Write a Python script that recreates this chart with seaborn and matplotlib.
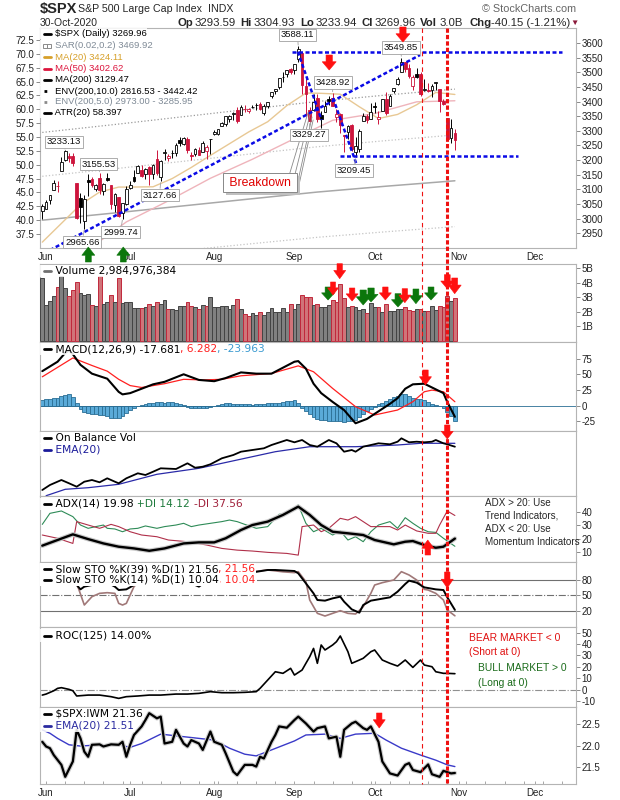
import matplotlib
matplotlib.use("Agg")
import matplotlib.pyplot as plt
import matplotlib.patheffects as pe
from matplotlib.lines import Line2D
from matplotlib.patches import Polygon, Rectangle
from matplotlib.text import Annotation
import seaborn as sns

sns.set_theme(style="white")
plt.rcParams['font.family'] = ['Liberation Sans', 'DejaVu Sans']
plt.rcParams['axes.unicode_minus'] = False

# --- daily $SPX bars, day 0 = 29-May-2020 ... day 108 = 30-Oct-2020 ---
prev_close = 3029.73  # 28-May close, only used to colour day 0

opens = [3025.17,
         3031.48, 3064.78, 3098.90, 3111.56, 3163.84, 3199.92, 3213.32, 3213.42, 3123.53, 3071.04,
         2993.76, 3131.00, 3136.13, 3101.64, 3140.29, 3094.42, 3138.70, 3114.40, 3046.60, 3073.20,
         3018.59, 3050.20,
         3105.92, 3143.64, 3155.29, 3166.44, 3153.07, 3176.17, 3152.47, 3205.08, 3141.11, 3225.98,
         3208.36, 3224.21, 3224.29, 3268.52, 3254.86, 3271.64, 3218.58, 3219.84, 3234.27, 3227.22,
         3231.76, 3270.45,
         3288.26, 3289.92, 3317.37, 3323.17, 3340.05, 3356.04, 3370.34, 3355.46, 3372.95, 3368.66,
         3380.86, 3387.04, 3392.51, 3360.48, 3386.01, 3418.09, 3435.95, 3449.97, 3485.14, 3494.69,
         3509.73,
         3507.44, 3543.76, 3564.74, 3453.60, 3371.88, 3369.82, 3412.56, 3352.70, 3363.56, 3407.73,
         3411.23, 3346.86, 3357.38, 3285.57, 3295.75, 3320.11, 3226.14, 3236.66, 3333.90, 3350.92,
         3341.21,
         3385.87, 3338.94, 3367.27, 3408.74, 3384.56, 3434.28, 3459.67, 3500.02, 3534.01, 3515.47,
         3453.72, 3493.50, 3493.66, 3439.38, 3439.91, 3438.50, 3464.90, 3441.42, 3403.15, 3342.48,
         3277.17, 3293.59]

highs = [3049.17,
         3062.18, 3081.07, 3130.94, 3128.91, 3211.72, 3233.13, 3222.71, 3223.27, 3123.53, 3088.42,
         3079.76, 3153.45, 3141.16, 3120.00, 3155.53, 3120.92, 3154.90, 3115.01, 3086.25, 3073.73,
         3053.89, 3111.51,
         3128.44, 3165.81, 3182.59, 3184.15, 3171.80, 3179.78, 3186.82, 3235.32, 3200.95, 3238.28,
         3220.39, 3233.52, 3258.61, 3277.29, 3279.32, 3279.99, 3227.26, 3241.43, 3243.72, 3264.74,
         3250.92, 3272.17,
         3302.73, 3306.84, 3330.77, 3351.03, 3352.54, 3363.29, 3381.01, 3387.89, 3387.24, 3378.51,
         3387.59, 3395.06, 3399.54, 3390.80, 3399.96, 3432.09, 3444.21, 3481.07, 3501.38, 3509.23,
         3514.77,
         3528.03, 3588.11, 3564.85, 3479.15, 3379.97, 3424.77, 3425.55, 3368.95, 3402.93, 3419.48,
         3428.92, 3375.17, 3362.27, 3285.57, 3320.31, 3323.35, 3278.70, 3306.88, 3360.74, 3357.92,
         3393.56,
         3397.18, 3369.10, 3409.57, 3431.56, 3426.26, 3447.28, 3482.34, 3549.85, 3534.01, 3527.94,
         3489.08, 3515.76, 3502.42, 3476.93, 3464.86, 3460.53, 3466.46, 3441.42, 3409.51, 3342.48,
         3341.05, 3304.93]

lows = [2998.61,
        3031.48, 3051.64, 3097.44, 3090.41, 3163.84, 3196.00, 3193.11, 3181.49, 2999.49, 2984.47,
        2965.66, 3076.06, 3108.03, 3093.51, 3083.11, 3079.39, 3127.12, 3032.13, 3024.01, 3004.63,
        2999.74, 3047.83,
        3101.17, 3124.52, 3155.29, 3142.93, 3136.53, 3115.70, 3136.22, 3149.43, 3127.66, 3200.76,
        3198.59, 3205.65, 3215.16, 3247.77, 3253.10, 3222.66, 3200.05, 3214.25, 3216.17, 3227.22,
        3204.13, 3220.26,
        3284.53, 3286.37, 3317.37, 3318.14, 3328.72, 3335.44, 3326.44, 3355.46, 3363.35, 3361.64,
        3379.22, 3370.15, 3369.66, 3354.69, 3379.31, 3413.13, 3425.84, 3444.15, 3468.35, 3484.32,
        3493.25,
        3494.60, 3535.23, 3427.41, 3349.63, 3329.27, 3366.84, 3329.25, 3310.47, 3363.56, 3389.25,
        3384.45, 3328.82, 3292.40, 3229.10, 3270.95, 3232.57, 3209.45, 3228.44, 3332.91, 3327.54,
        3340.47,
        3361.39, 3323.69, 3367.27, 3354.54, 3384.56, 3428.15, 3458.07, 3499.61, 3500.86, 3480.55,
        3440.89, 3480.45, 3419.93, 3435.65, 3433.06, 3415.34, 3440.45, 3364.86, 3388.71, 3268.89,
        3259.82, 3233.94]

closes = [3044.31,
          3055.73, 3080.82, 3122.87, 3112.35, 3193.93, 3232.39, 3207.18, 3190.14, 3002.10, 3041.31,
          3066.59, 3124.74, 3113.49, 3115.34, 3097.74, 3117.86, 3131.29, 3050.33, 3083.76, 3009.05,
          3053.24, 3100.29,
          3115.86, 3130.01, 3179.72, 3145.32, 3169.94, 3152.05, 3185.04, 3155.22, 3197.52, 3226.56,
          3215.57, 3224.73, 3251.84, 3257.30, 3276.02, 3235.66, 3215.63, 3239.41, 3218.44, 3258.44,
          3246.22, 3271.12,
          3294.61, 3306.51, 3327.77, 3349.16, 3351.28, 3360.47, 3333.69, 3380.35, 3373.43, 3372.85,
          3381.99, 3389.78, 3374.85, 3385.51, 3397.16, 3431.28, 3443.62, 3478.73, 3484.55, 3508.01,
          3500.31,
          3526.65, 3580.84, 3455.06, 3426.96, 3331.84, 3398.96, 3339.19, 3340.97, 3383.54, 3401.20,
          3385.49, 3357.01, 3319.47, 3281.06, 3315.57, 3236.92, 3246.59, 3298.46, 3351.60, 3335.47,
          3363.00,
          3380.80, 3348.42, 3408.60, 3360.97, 3419.44, 3446.83, 3477.14, 3534.22, 3511.93, 3488.67,
          3483.34, 3483.81, 3426.92, 3443.12, 3435.56, 3453.49, 3465.39, 3400.97, 3390.68, 3271.03,
          3310.11, 3269.96]

# volume in billions of shares
volume_b = [4.34, 2.44, 2.74, 3.09, 3.69, 4.48, 3.65, 3.09, 3.48, 4.04,
            3.28, 3.18, 3.23, 2.44, 2.37, 4.48, 2.51, 2.65, 3.14, 2.65,
            4.34, 2.58, 2.65, 2.65, 2.23, 2.27, 2.23, 2.30, 2.51, 2.37,
            2.65, 2.51, 2.79, 2.16, 2.16, 2.09, 2.37, 2.37, 2.65, 2.37,
            2.30, 2.16, 2.44, 2.37, 3.00, 2.30, 2.30, 2.37, 2.37, 2.16,
            2.49, 2.86, 2.16, 1.86, 1.70, 1.89, 1.75, 1.96, 1.75, 1.96,
            2.23, 1.96, 1.96, 2.23, 1.96, 2.51, 2.16, 2.51, 3.14, 3.00,
            3.00, 2.44, 2.51, 2.30, 2.30, 2.44, 2.79, 2.65, 3.90, 2.93,
            2.30, 2.37, 2.30, 2.09, 2.16, 1.89, 2.58, 2.30, 2.30, 1.96,
            2.51, 2.02, 2.02, 2.16, 2.16, 2.30, 2.09, 2.02, 2.16, 2.16,
            2.02, 2.02, 2.37, 2.09, 2.37, 2.30, 3.07, 2.72, 2.98]

# overlays (read at sample days)
ma20_days = [0, 5, 10, 15, 20, 23, 29, 34, 39, 44, 49, 54, 59, 64, 69, 73, 78, 83, 88, 93, 98, 103, 108]
ma20_vals = [2920, 2984, 3048, 3091, 3108, 3108, 3109, 3137, 3175, 3216, 3256, 3296, 3331, 3386,
             3429, 3428, 3425, 3382, 3342, 3356, 3389, 3431, 3424.11]
ma50_days = [0, 11, 22, 33, 44, 55, 65, 76, 87, 98, 108]
ma50_vals = [2773, 2885, 2989, 3061, 3138, 3203, 3267, 3336, 3359, 3399, 3402.62]
ma200_days = [0, 20, 40, 60, 72, 90, 108]
ma200_vals = [2995, 3021, 3048, 3075, 3091, 3111, 3129.47]
env10_up = [3294.5, 3323.1, 3352.8, 3382.5, 3400.1, 3422.1, 3442.42]
env10_lo = [2695.5, 2718.9, 2743.2, 2767.5, 2781.9, 2799.9, 2816.53]
env5_up = [3144.8, 3172.1, 3200.4, 3228.8, 3245.6, 3266.6, 3285.95]
env5_lo = [2845.3, 2869.9, 2895.6, 2921.3, 2936.5, 2955.5, 2973.00]

# MACD(12,26,9)
macd_days = [0, 4, 6, 7, 8, 10, 13, 17, 20, 21, 23, 26, 29, 32, 37, 41, 45, 48, 52, 56,
             60, 66, 67, 69, 71, 73, 76, 79, 82, 85, 88, 91, 93, 95, 97, 100, 103, 105, 106, 108]
macd_vals = [55, 70, 84, 88, 82, 65, 51, 43, 22, 18, 20, 27, 34, 38, 50, 41, 39, 44, 53, 51,
             51, 70, 71, 59, 35, 20, 6, -7, -28, -21, -9, 3, 12, 27, 34, 35, 26, 20, 6, -17.68]
signal_days = [0, 8, 13, 17, 20, 23, 26, 32, 37, 42, 47, 52, 60, 67, 71, 76, 82, 87, 93, 97,
               100, 102, 105, 108]
signal_vals = [46, 76, 64, 55, 42, 32, 29, 35, 42, 41, 42, 47.6, 51.3, 63.4, 54, 27.5, -1.6,
               -14.8, -6.9, 6.3, 22.2, 24.8, 22.2, 6.28]
macd_hist = [9, 10, 11, 12, 13, 15, 17, 18, 14, 4,
             -6, -10, -12, -13, -14, -15, -15, -17, -20, -20,
             -19, -16, -12, -7, -3, -1, 1, 3, 4, 5,
             6, 6, 5, 6, 6, 5, 3, 1, -2, -3,
             -4, -4, -3, -3, -2, -1, 1, 2, 4, 4,
             3, 2, 3, 2, 2, 1, 2, 3, 3, 4,
             4, 4, 5, 6, 7, 7, 9, 5, -3, -9,
             -14, -18, -21, -23, -23, -24, -24, -25, -25, -26,
             -25, -24, -22, -18, -14, -9, -6, -2, 2, 5,
             8, 11, 14, 16, 18, 18, 15, 13, 11, 10,
             9, 6, 3, 1, -1, -3, -10, -16, -23.96]

# On Balance Volume (relative units) and its EMA(20)
obv_days = [0, 2, 5, 7, 9, 11, 13, 15, 17, 19, 20, 22, 25, 27, 29, 31, 35, 38, 40, 42,
            44, 47, 50, 52, 55, 58, 60, 64, 66, 68, 70, 72, 75, 77, 79, 81, 82, 84, 86, 88,
            91, 93, 94, 96, 98, 100, 102, 103, 105, 106, 108]
obv_vals = [6.0, 11.0, 16.0, 12.7, 9.3, 14.3, 16.0, 13.7, 17.7, 14.3, 12.7, 17.7, 22.7, 21.0,
            24.3, 27.7, 27.0, 32.7, 28.3, 29.3, 31.7, 37.7, 41.0, 44.3, 46.0, 47.7, 51.0, 56.0,
            53.7, 56.0, 51.0, 49.3, 56.0, 52.7, 44.3, 46.0, 44.3, 49.3, 51.0, 52.7, 51.7, 54.3,
            57.7, 53.7, 54.3, 53.7, 54.3, 56.0, 52.7, 51.7, 49.3]
obv_ema_days = [1, 6, 12, 20, 30, 41, 51, 61, 70, 82, 93, 99, 108]
obv_ema_vals = [0.3, 6.7, 8.3, 11.7, 21.7, 27.7, 36.0, 44.3, 49.3, 49.3, 51.0, 52.7, 52.7]

# ADX(14), +DI, -DI
adx_days = [0, 4, 8, 12, 16, 20, 24, 28, 32, 37, 41, 45, 48, 52, 55, 59, 63, 67, 70, 73,
            76, 80, 84, 87, 92, 95, 97, 100, 103, 105, 108]
adx_vals = [14.6, 18.9, 23.2, 19.6, 16.3, 13.8, 12.5, 10.7, 12.5, 16.3, 17.1, 17.1, 20.2, 26.5,
            30.3, 32.9, 38.0, 44.3, 38.0, 30.3, 25.2, 24.0, 22.7, 18.9, 15.6, 17.6, 18.1, 15.1,
            13.0, 13.8, 19.98]
pdi_days = [0, 2, 5, 8, 10, 12, 14, 16, 17, 19, 21, 23, 25, 27, 30, 32, 35, 37, 39, 41,
            44, 47, 49, 51, 53, 56, 59, 62, 64, 67, 69, 71, 73, 76, 78, 80, 82, 84, 86, 88,
            91, 93, 95, 97, 99, 101, 103, 105, 108]
pdi_vals = [30.8, 39.2, 41.0, 36.7, 30.3, 27.8, 29.1, 30.3, 27.8, 27.3, 25.2, 27.3, 27.8, 29.6,
            27.8, 29.1, 30.3, 31.6, 29.1, 30.3, 31.6, 32.9, 34.1, 32.9, 30.8, 27.8, 29.1, 38.5,
            38.5, 45.6, 31.6, 25.2, 27.8, 22.7, 25.8, 18.9, 21.4, 17.6, 25.2, 30.3, 32.9, 27.8,
            35.9, 31.6, 27.8, 25.2, 24.7, 20.2, 14.12]
mdi_days = [0, 4, 8, 9, 12, 15, 18, 20, 23, 26, 30, 33, 38, 43, 47, 51, 55, 59, 64, 67,
            68, 71, 73, 75, 78, 80, 82, 86, 91, 93, 95, 98, 101, 103, 104, 106, 108]
mdi_vals = [22.7, 20.2, 16.3, 32.9, 30.3, 27.8, 30.8, 29.1, 25.2, 22.7, 21.4, 18.9, 17.6, 15.1,
            12.5, 11.2, 10.5, 9.5, 8.7, 7.4, 29.1, 30.3, 25.2, 27.8, 35.4, 34.1, 36.7, 29.1,
            29.1, 26.5, 30.3, 25.8, 24.0, 24.0, 30.3, 41.0, 37.56]

# Slow stochastics
sto39_days = [0, 3, 6, 8, 9, 10, 11, 13, 15, 17, 19, 20, 22, 24, 26, 29, 33, 36, 38, 40,
              41, 44, 48, 52, 56, 59, 61, 66, 67, 69, 71, 72, 74, 76, 78, 79, 81, 83, 84, 86,
              88, 91, 93, 95, 96, 98, 100, 103, 105, 106, 108]
sto39_vals = [88, 92, 96, 90, 70.2, 61.7, 67, 70.2, 78, 75, 67, 60.4, 61.7, 70.2, 82, 88, 94,
              96, 84, 70.2, 67, 84, 94, 97, 96, 99.6, 99.6, 97.6, 93, 73.5, 53.9, 40.9, 39.6,
              44.1, 47.4, 37.6, 22.6, 16.1, 31.1, 39.6, 42.2, 46.1, 57.2, 72.2, 78.7, 74.8,
              65.6, 61.7, 60.4, 46.1, 21.56]
sto14_days = [0, 3, 6, 8, 9, 11, 13, 15, 17, 19, 20, 21, 22, 24, 27, 30, 34, 37, 39, 41,
              42, 45, 49, 52, 56, 59, 63, 66, 67, 69, 70, 72, 74, 76, 78, 80, 82, 84, 86, 87,
              89, 92, 94, 96, 98, 100, 101, 103, 105, 106, 108]
sto14_vals = [85, 95, 97, 90, 73.5, 31.1, 47.4, 53.9, 55.2, 53.9, 34.3, 31.1, 34.3, 67, 90, 85,
              95, 96, 80, 70.2, 73.5, 92, 95, 93, 97, 99.6, 96, 94.4, 96.3, 76.7, 40.9, 14.8,
              9.6, 14.8, 20, 14.8, 13.5, 27.8, 53.9, 70.2, 74.8, 80, 96.3, 89.8, 80, 61.7,
              60.4, 53.9, 40.9, 21.3, 10.04]

# ROC(125)
roc_days = [0, 1, 3, 4, 5, 7, 8, 9, 12, 15, 18, 20, 22, 25, 28, 31, 35, 38, 41, 44,
            47, 50, 53, 56, 57, 59, 61, 63, 65, 66, 68, 69, 70, 71, 72, 73, 74, 76, 77, 78,
            80, 81, 83, 84, 86, 87, 89, 91, 93, 95, 97, 99, 100, 102, 103, 105, 106, 108]
roc_vals = [-4.8, -3.9, -1.0, 1.1, 1.7, 0.2, -1.0, -5.6, -4.8, -4.8, -6.2, -7.7, -6.2, -5.6,
            -4.8, -4.8, -3.9, -3.9, -3.3, -1.8, -2.7, -2.7, -2.4, -1.8, 1.1, 8.4, 15.7, 14.3,
            18.7, 12.8, 17.2, 23.1, 28.9, 36.2, 23.1, 39.2, 34.8, 39.2, 42.1, 47.1, 33.3, 23.1,
            26.0, 27.5, 33.3, 34.8, 26.0, 23.1, 20.7, 26.0, 19.5, 26.0, 21.6, 20.1, 15.7, 14.3,
            14.3, 14.0]

# $SPX:IWM ratio and EMA(20)
ratio_days = [0, 1, 2, 3, 5, 6, 8, 9, 10, 11, 12, 13, 15, 16, 18, 20, 21, 22, 23, 24,
              26, 27, 28, 30, 31, 32, 34, 35, 37, 38, 39, 41, 42, 44, 45, 47, 48, 50, 51, 53,
              55, 56, 57, 58, 60, 61, 62, 64, 66, 67, 69, 71, 72, 74, 75, 77, 78, 79, 81, 82,
              84, 85, 86, 88, 89, 91, 93, 95, 96, 97, 99, 100, 101, 102, 104, 105, 107, 108]
ratio_vals = [22.09, 21.98, 21.94, 21.78, 21.55, 21.27, 21.63, 22.37, 22.17, 21.86,
              21.74, 22.02, 22.03, 21.98, 22.03, 22.02, 22.09, 21.74, 22.02, 22.25,
              22.45, 22.60, 22.76, 22.64, 22.68, 22.05, 22.09, 22.37, 22.05, 21.98,
              22.13, 22.05, 21.90, 22.33, 22.09, 22.02, 21.82, 21.39, 21.31, 21.55,
              21.55, 21.51, 21.74, 21.70, 22.09, 22.25, 22.45, 22.42, 22.60, 22.68,
              22.52, 22.33, 22.41, 22.45, 22.17, 22.21, 21.74, 22.37, 22.52, 22.56,
              22.41, 22.37, 22.45, 22.09, 21.63, 21.35, 21.30, 21.55, 21.59, 21.43,
              21.38, 21.47, 21.56, 21.33, 21.27, 21.41, 21.35, 21.36]
ratio_ema_days = [0, 2, 4, 7, 10, 15, 20, 23, 26, 31, 35, 41, 45, 49, 53, 56, 60, 66, 69, 74,
                  78, 82, 87, 90, 94, 99, 103, 106, 108]
ratio_ema_vals = [22.37, 22.29, 22.17, 22.02, 21.99, 22.02, 22.02, 21.96, 22.05, 22.27, 22.23,
                  22.17, 22.13, 21.94, 21.80, 21.76, 21.90, 22.11, 22.25, 22.27, 22.17, 22.27,
                  22.29, 22.13, 21.94, 21.78, 21.66, 21.55, 21.51]

month_days = [1, 23, 45, 66, 87, 109, 129]
month_names = ['Jun', 'Jul', 'Aug', 'Sep', 'Oct', 'Nov', 'Dec']

# ---------------------------------------------------------------
W, H = 620, 800
X0, X1 = -0.6, 139.7
RED = '#cd143c'
SUB = dict(family=['DejaVu Sans'], size=7.7, spaces='    ')   # sub-panel legend font

fig = plt.figure(figsize=(W / 100, H / 100), dpi=100)
fig.patch.set_facecolor('white')


def fx(x):
    return x / W


def fy(y):
    return 1 - y / H


def kx(k):
    return 40 + (k - X0) / (X1 - X0) * 536


def make_panel(top, bottom, ylim):
    ax = fig.add_axes([fx(40), fy(bottom), 536 / W, (bottom - top) / H])
    ax.set_xlim(X0, X1)
    ax.set_ylim(*ylim)
    ax.set_facecolor('white')
    for s in ax.spines.values():
        s.set_color('#b4b4b4')
        s.set_linewidth(0.8)
    ax.yaxis.tick_right()
    ax.tick_params(axis='y', length=3, width=0.6, color='#777777', labelsize=7,
                   labelcolor='#222222', pad=1, right=True, left=False)
    ax.tick_params(axis='x', bottom=False, labelbottom=False)
    return ax


def plot_line(ax, days, vals, color, lw=1.0, ls='-', shadow=None, z=3):
    kw = {}
    if shadow:
        kw['path_effects'] = [pe.Stroke(linewidth=lw + 1.6, foreground=shadow), pe.Normal()]
    sns.lineplot(x=days, y=vals, ax=ax, color=color, linewidth=lw, linestyle=ls,
                 zorder=z, errorbar=None, **kw)
    ax.set_xlabel('')
    ax.set_ylabel('')


def legend_row(y, parts, marker=None, size=6.8, alpha=0.85, family=None, spaces='     '):
    fam = family or ['Liberation Sans', 'DejaVu Sans']
    bb = dict(boxstyle='square,pad=0.12', fc='white', ec='none', alpha=alpha)
    t = fig.text(fx(41.5), fy(y), spaces + parts[0][0], color=parts[0][1], fontsize=size,
                 family=fam, va='center', ha='left', zorder=6, bbox=bb)
    for txt, col in parts[1:]:
        a = Annotation(txt, xy=(1, 0.5), xycoords=t, va='center', ha='left', color=col,
                       fontsize=size, family=fam, zorder=6, bbox=bb)
        fig.add_artist(a)
        t = a
    if marker is not None:
        col, ls = marker
        if ls == 's':
            fig.add_artist(Line2D([fx(44.5), fx(48.5)], [fy(y), fy(y)], color=col, ls='none',
                                  marker='s', ms=2.2, mfc='none', mew=0.7, zorder=7))
        else:
            fig.add_artist(Line2D([fx(43.5), fx(50.5)], [fy(y), fy(y)], color=col, lw=2,
                                  ls=ls, zorder=7))


def sub_legend(y, parts, marker, alpha=0.85):
    legend_row(y, parts, marker, size=SUB['size'], alpha=alpha, family=SUB['family'],
               spaces=SUB['spaces'])


def block_arrow(k, y0, y1, color, down=True, w=13):
    xc = kx(k)
    h = y1 - y0
    sw = w * 0.45
    if down:
        m = y0 + h * 0.45
        pts = [(xc - sw / 2, y0), (xc + sw / 2, y0), (xc + sw / 2, m), (xc + w / 2, m),
               (xc, y1), (xc - w / 2, m), (xc - sw / 2, m)]
    else:
        m = y1 - h * 0.45
        pts = [(xc - sw / 2, y1), (xc + sw / 2, y1), (xc + sw / 2, m), (xc + w / 2, m),
               (xc, y0), (xc - w / 2, m), (xc - sw / 2, m)]
    fig.add_artist(Polygon([(fx(a), fy(b)) for a, b in pts], closed=True,
                           transform=fig.transFigure, fc=color, ec=color, lw=0.4, zorder=8))


days = list(range(len(closes)))
prevs = [prev_close] + closes[:-1]
down_day = [c < p for c, p in zip(closes, prevs)]

# --- header ---
fig.text(fx(40), fy(9), '$SPX', fontsize=10.5, fontweight='bold', va='center')
fig.text(fx(78), fy(9.5), 'S&P 500 Large Cap Index  INDX', fontsize=7.7, va='center')
fig.text(fx(576), fy(9), '\u00a9 StockCharts.com', fontsize=7.8, color='#666666',
         va='center', ha='right')
fig.text(fx(40), fy(23), '30-Oct-2020', fontsize=7.5, va='center')
for xp, s, bold in [(178, 'Op', True), (195, '3293.59', False), (240, 'Hi', True),
                    (254, '3304.93', False), (300, 'Lo', True), (316, '3233.94', False),
                    (361, 'Cl', True), (375, '3269.96', False), (420, 'Vol', True),
                    (440, '3.0B', False), (469, 'Chg', True), (491, '-40.15 (-1.21%)', False)]:
    fig.text(fx(xp), fy(23), s, fontsize=8.2, va='center',
             fontweight='bold' if bold else 'normal')
fig.text(fx(570), fy(23), '\u25bc', fontsize=6, color='#8b1a3a', va='center')

# --- price panel ---
ax = make_panel(28, 248.3, (2899, 3651))
axl = ax.twinx()
ax.yaxis.tick_right()
axl.yaxis.tick_left()
axl.set_ylim(34.92, 74.66)
axl.set_yticks([37.5 + 2.5 * i for i in range(15)])
axl.set_yticklabels([f'{37.5 + 2.5 * i:.1f}' for i in range(15)])
axl.tick_params(axis='y', length=3, width=0.6, color='#777777', labelsize=7,
                labelcolor='#222222', pad=1)
for s in axl.spines.values():
    s.set_visible(False)
ax.set_yticks(list(range(2950, 3601, 50)))
ax.set_xticks(month_days)
ax.set_xticklabels(month_names)
ax.tick_params(axis='x', bottom=True, length=0, labelbottom=True, labelsize=7,
               labelcolor='#222222', pad=3)

plot_line(ax, ma200_days, env10_lo, '#a0a0a0', lw=0.9, ls=':', z=2)
plot_line(ax, ma200_days, env10_up, '#9a9a9a', lw=0.9, ls=':', z=2)
plot_line(ax, ma200_days, env5_up, '#c4c4c4', lw=0.9, ls=':', z=2)
plot_line(ax, ma200_days, env5_lo, '#c4c4c4', lw=0.9, ls=':', z=2)
plot_line(ax, ma200_days, ma200_vals, '#a8a8a8', lw=1.1, z=2)
plot_line(ax, ma50_days, ma50_vals, '#efb4bb', lw=1.0, z=2)
plot_line(ax, ma20_days, ma20_vals, '#e8c894', lw=1.0, z=2)

cols = [RED if d else 'black' for d in down_day]
ax.vlines(days, lows, highs, colors=cols, lw=0.7, zorder=4)
ax.bar(days, [max(abs(c - o), 0.8) for o, c in zip(opens, closes)],
       bottom=[min(o, c) for o, c in zip(opens, closes)], width=0.72,
       color=['white' if c >= o else col for o, c, col in zip(opens, closes, cols)],
       edgecolor=cols, linewidth=0.6, zorder=5)

# trend lines
blue_ls = (0, (1.6, 1.0))
for (ka, pa), (kb, pb) in [((65.3, 3570.3), (136.0, 3570.3)), ((77.9, 3215.1), (124.5, 3215.1)),
                           ((0.5, 2882.5), (98.9, 3559.0)), ((66.9, 3570.0), (73.1, 3337.0)),
                           ((76.1, 3412.0), (82.6, 3173.0))]:
    ax.plot([ka, kb], [pa, pb], color='#0a0ae6', lw=1.8, ls=blue_ls, zorder=6)

# price labels
for k, p, txt, tk, tp in [(67, 3588.11, '3588.11', 66.8, 3627.3), (94, 3549.85, '3549.85', 93.8, 3584.6),
                          (76, 3428.92, '3428.92', 76.0, 3465.0), (70, 3329.27, '3329.27', 69.8, 3285.8),
                          (82, 3209.45, '3209.45', 81.6, 3164.5), (6, 3233.13, '3233.13', 5.7, 3261.9),
                          (15, 3155.53, '3155.53', 14.7, 3186.7), (31, 3127.66, '3127.66', 30.7, 3080.9),
                          (21, 2999.74, '2999.74', 20.5, 2954.5), (11, 2965.66, '2965.66', 10.5, 2920.4)]:
    ax.annotate(txt, xy=(k, p), xytext=(tk, tp), textcoords='data', ha='center', va='center',
                fontsize=6.8, color='#111111', zorder=9, annotation_clip=False,
                bbox=dict(boxstyle='square,pad=0.2', fc='white', ec='#a0a0a0', lw=0.6),
                arrowprops=dict(arrowstyle='-', color='#a0a0a0', lw=0.6, shrinkA=0, shrinkB=1))

# breakdown call-out
for (ka, pa), (kb, pb) in [((64.8, 3156), (69.6, 3364)), ((65.9, 3139), (70.1, 3357)),
                           ((66.7, 3115), (70.6, 3347)), ((66.9, 3098), (70.9, 3337))]:
    ax.plot([ka, kb], [pa, pb], color='#8a8a8a', lw=0.6, zorder=7)
ax.add_patch(Rectangle((48.1, 3080.9), 19.4, 64.9, fc='#c0c0c0', ec='none', zorder=8))
ax.text(57.0, 3123.6, ' Breakdown ', color='#e00000', fontsize=8.8, ha='center', va='center',
        zorder=9, bbox=dict(boxstyle='square,pad=0.25', fc='white', ec='#888888', lw=0.7))

legend_row(33.5, [('$SPX (Daily) 3269.96', 'black')], ('black', '-'))
legend_row(45.5, [('SAR(0.02,0.2) 3469.92', '#7f8a96')], ('#8a8a8a', 's'))
legend_row(57, [('MA(20) 3424.11', '#d7a02a')], ('#d7a02a', '-'))
legend_row(68.5, [('MA(50) 3402.62', '#dc143c')], ('#dc143c', '-'))
legend_row(80, [('MA(200) 3129.47', 'black')], ('black', '-'))
legend_row(91, [('ENV(200,10.0) 2816.53 - 3442.42', 'black')], ('black', ':'))
legend_row(101.5, [('ENV(200,5.0) 2973.00 - 3285.95', '#7f8a96')], ('#8a8a8a', ':'))
legend_row(112.5, [('ATR(20) 58.397', 'black')], ('black', '-'))

# --- volume ---
axv = make_panel(264, 342, (-0.104, 5.31))
axv.bar(days, volume_b, width=1.0,
        color=['#d07479' if d else '#808080' for d in down_day],
        edgecolor=['#c0283c' if d else '#444444' for d in down_day], linewidth=0.7, zorder=3)
axv.set_yticks([1, 2, 3, 4, 5])
axv.set_yticklabels(['1B', '2B', '3B', '4B', '5B'])
sub_legend(271, [('Volume 2,984,976,384', 'black')], ('#707070', '-'))

# --- MACD ---
axm = make_panel(342, 431, (-40.3, 101.4))
axm.bar(days, macd_hist, width=1.0, color='#5aaad8', edgecolor='#2a6e94', linewidth=0.6, zorder=2)
axm.axhline(0, color='#2a6e94', lw=0.6, zorder=2)
plot_line(axm, signal_days, signal_vals, '#ff2020', lw=0.9, z=3)
plot_line(axm, macd_days, macd_vals, 'black', lw=1.5, z=4)
axm.set_yticks([-25, 0, 25, 50, 75])
sub_legend(349, [('MACD(12,26,9) -17.681', 'black'), (', 6.282', '#ff2020'),
                 (', -23.963', '#3a9ad0')], ('black', '-'))

# --- OBV ---
axo = make_panel(431, 496, (0, 65))
axo.set_yticks([])
plot_line(axo, obv_ema_days, obv_ema_vals, '#2a2aa8', lw=0.9, z=3)
plot_line(axo, obv_days, obv_vals, 'black', lw=1.3, z=4)
sub_legend(438, [('On Balance Vol', 'black')], ('black', '-'))
sub_legend(449.5, [('EMA(20)', '#1a1a9a')], ('#1a1a9a', '-'))

# --- ADX ---
axa = make_panel(496, 562, (2.16, 52.4))
plot_line(axa, pdi_days, pdi_vals, '#2e8b57', lw=0.8, z=3)
plot_line(axa, mdi_days, mdi_vals, '#b0304a', lw=0.8, z=3)
plot_line(axa, adx_days, adx_vals, 'black', lw=1.7, shadow='#c8c8c8', z=4)
axa.set_yticks([10, 20, 30, 40])
sub_legend(504, [('ADX(14) 19.98 ', 'black'), ('+DI 14.12 ', '#1e7a3c'),
                 ('-DI 37.56', '#a0203a')], ('black', '-'))
for yy, s in [(503.3, 'ADX > 20: Use'), (516, 'Trend Indicators,'), (529.3, 'ADX < 20: Use'),
              (542.3, 'Momentum Indicators')]:
    fig.text(fx(485), fy(yy), s, fontsize=7.1, va='center', ha='left', zorder=6)

# --- Slow STO ---
axs = make_panel(562, 627, (-11.9, 115.2))
for lv, ls in [(80, '-'), (50, '-.'), (20, '-')]:
    axs.axhline(lv, color='#707070', lw=0.8, ls=ls, zorder=1)
plot_line(axs, sto14_days, sto14_vals, '#a07878', lw=1.2, z=3)
plot_line(axs, sto39_days, sto39_vals, 'black', lw=1.4, z=4)
axs.set_yticks([20, 50, 80])
sub_legend(569, [('Slow STO %K(39) %D(1) 21.56', 'black'), (', 21.56', '#ff2020')],
           ('black', '-'), alpha=1.0)
sub_legend(579.5, [('Slow STO %K(14) %D(1) 10.04', 'black'), (', 10.04', '#ff2020')],
           ('black', '-'), alpha=1.0)

# --- ROC ---
axr = make_panel(627, 707, (-15.27, 55.0))
axr.axhline(0, color='#909090', lw=0.8, ls='-.', zorder=1)
plot_line(axr, roc_days, roc_vals, 'black', lw=1.2, z=3)
axr.set_yticks([-10, 0, 10, 20, 30, 40, 50])
sub_legend(635.5, [('ROC(125) 14.00%', 'black')], ('black', '-'))
fig.text(fx(469), fy(638.3), 'BEAR MARKET < 0', fontsize=7.4, color='#e01010', va='center', zorder=6)
fig.text(fx(469), fy(651.7), '(Short at 0)', fontsize=7.4, color='#e01010', va='center', zorder=6)
fig.text(fx(477.5), fy(668.3), 'BULL MARKET > 0', fontsize=7.4, color='#1a6b1a', va='center', zorder=6)
fig.text(fx(477.5), fy(682.7), '(Long at 0)', fontsize=7.4, color='#1a6b1a', va='center', zorder=6)

# --- $SPX:IWM ---
axi = make_panel(707, 784, (21.102, 22.905))
plot_line(axi, ratio_ema_days, ratio_ema_vals, '#3a3ac8', lw=1.0, z=3)
plot_line(axi, ratio_days, ratio_vals, 'black', lw=1.6, shadow='#cfcfcf', z=4)
axi.set_yticks([21.5, 22.0, 22.5])
axi.set_yticklabels(['21.5', '22.0', '22.5'])
axi.set_xticks(month_days)
axi.set_xticklabels(month_names)
axi.set_xticks(list(range(1, 139, 5)), minor=True)
axi.tick_params(axis='x', which='both', bottom=True, labelbottom=True, direction='in',
                length=2.5, width=0.6, color='#999999', labelsize=7, labelcolor='#222222', pad=3)
sub_legend(714, [('$SPX:IWM 21.36', 'black')], ('black', '-'))
sub_legend(725.5, [('EMA(20) 21.51', '#2a2aa0')], ('#2a2aa0', '-'))

# --- event markers spanning all panels ---
fig.add_artist(Line2D([fx(kx(99.35))] * 2, [fy(28), fy(784)], color='#ee1111', lw=0.8,
                      ls=(0, (4, 3)), zorder=4))
fig.add_artist(Line2D([fx(kx(106.0))] * 2, [fy(28), fy(784)], color='#ee1111', lw=2.2,
                      ls=(0, (1.4, 0.7)), zorder=4))

GREEN = '#0b760b'
for k, y0, y1, col, dn, w in [
        (94.4, 27, 42, '#ff1010', True, 14), (75.1, 55, 70, '#ff1010', True, 14),
        (12.05, 247, 262, GREEN, False, 13), (21.2, 247, 262, GREEN, False, 13),
        (74.8, 287, 300, GREEN, True, 13), (84.0, 290, 305, GREEN, True, 14),
        (86.05, 288, 302, GREEN, True, 14), (93.1, 293.7, 307, GREEN, True, 13),
        (97.8, 289, 303.7, GREEN, True, 13), (101.75, 287, 300, GREEN, True, 13),
        (76.1, 282, 295, '#ff1010', True, 11), (77.85, 263.7, 278.7, '#ff1010', True, 12),
        (81.1, 288, 301, '#ff1010', True, 12), (89.8, 287, 300, '#ff1010', True, 12),
        (94.9, 288.7, 302.7, '#ff1010', True, 12), (106.0, 274.7, 288.7, '#ff1010', True, 13),
        (107.95, 278, 293.7, '#ff1010', True, 13),
        (100.3, 370, 385, '#ff1010', True, 12), (106.0, 425, 439, '#ff1010', True, 12),
        (100.9, 540, 555, '#ff1010', False, 12), (106.0, 572, 588, '#ff1010', True, 12),
        (88.2, 713, 728, '#ff1010', True, 12)]:
    block_arrow(k, y0, y1, col, down=dn, w=w)

fig.savefig('out.png', dpi=100, facecolor='white')
